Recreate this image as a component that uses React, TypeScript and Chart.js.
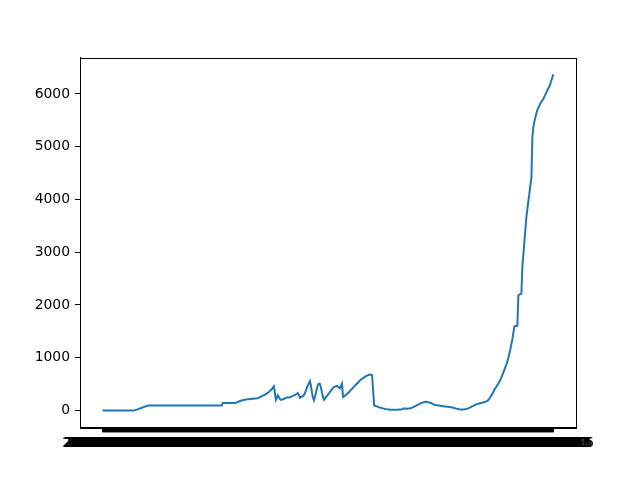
import React, { useEffect, useRef } from "react";
import { Chart, registerables } from "chart.js";

Chart.register(...registerables);

const START_DATE = "2020-01-22";

// Series values, one per day
const values: number[] = [
  0, 0, 0, 0, 0, 0, 0, 0, 0, 0,
  0, 0, 0, 0, 0, 0, 0, 0, 0, 0,
  0, 0, 0, 0, 0, 0, 0, 0, 0, 0,
  0, 0, 3, 8, 14, 20, 27, 34, 41, 48,
  55, 62, 69, 76, 82, 87, 91, 94, 95, 95,
  95, 95, 95, 95, 95, 95, 95, 95, 95, 95,
  95, 95, 95, 95, 95, 95, 95, 95, 95, 95,
  95, 95, 95, 95, 95, 95, 95, 95, 95, 95,
  95, 95, 95, 95, 95, 95, 95, 95, 95, 95,
  95, 95, 95, 95, 95, 95, 95, 95, 95, 95,
  95, 95, 95, 95, 95, 95, 95, 95, 95, 95,
  95, 95, 95, 95, 95, 95, 95, 95, 95, 95,
  139, 139, 139, 139, 140, 140, 140, 140, 140, 140,
  140, 140, 141, 145, 152, 160, 168, 175, 182, 188,
  194, 199, 203, 206, 209, 211, 213, 215, 217, 219,
  221, 222, 224, 226, 228, 234, 242, 252, 262, 272,
  280, 287, 298, 310, 322, 336, 350, 367, 385, 405,
  430, 456, 330, 203, 245, 285, 250, 215, 200, 205,
  212, 220, 228, 240, 243, 245, 247, 250, 258, 266,
  275, 285, 295, 305, 315, 330, 290, 240, 250, 260,
  275, 290, 330, 380, 430, 480, 520, 556, 460, 340,
  240, 190, 260, 340, 420, 490, 506, 500, 430, 340,
  260, 203, 225, 250, 275, 300, 325, 350, 375, 400,
  425, 443, 450, 458, 465, 450, 430, 420, 465, 506,
  253, 265, 280, 295, 310, 330, 350, 370, 390, 410,
  430, 450, 470, 490, 510, 530, 550, 570, 585, 600,
  612, 625, 637, 648, 658, 667, 677, 680, 675, 665,
  400, 95, 88, 80, 73, 66, 59, 53, 48, 43,
  38, 33, 28, 24, 20, 18, 16, 14, 13, 13,
  12, 12, 12, 13, 13, 14, 15, 16, 18, 22,
  30, 40, 35, 30, 32, 35, 38, 40, 45, 52,
  60, 70, 80, 90, 100, 110, 120, 130, 139, 146,
  152, 158, 165, 162, 158, 154, 150, 146, 140, 130,
  118, 108, 104, 100, 97, 94, 91, 88, 85, 82,
  79, 76, 74, 72, 70, 68, 65, 62, 58, 54,
  49, 44, 39, 34, 29, 25, 21, 19, 18, 18,
  19, 21, 24, 28, 33, 40, 48, 57, 66, 76,
  86, 97, 108, 114, 120, 126, 131, 136, 141, 146,
  152, 158, 165, 172, 180, 195, 222, 250, 280, 315,
  350, 385, 420, 450, 480, 510, 545, 580, 620, 670,
  720, 770, 820, 870, 930, 1000, 1080, 1160, 1260, 1350,
  1470, 1595, 1600, 1600, 1605, 2183, 2195, 2205, 2215, 2721,
  2960, 3200, 3430, 3670, 3820, 3970, 4120, 4270, 4400, 5200,
  5380, 5475, 5560, 5633, 5700, 5740, 5780, 5820, 5854, 5880,
  5910, 5949, 5990, 6030, 6076, 6110, 6139, 6200, 6260, 6320,
  6370,
];

// Category (date) labels, one per value
const dates: string[] = (() => {
  const out: string[] = [];
  const d = new Date(START_DATE + "T00:00:00Z");
  for (let i = 0; i < values.length; i++) {
    out.push(d.toISOString().slice(0, 10));
    d.setUTCDate(d.getUTCDate() + 1);
  }
  return out;
})();

const yTicks: number[] = [0, 1000, 2000, 3000, 4000, 5000, 6000];

const FONT = { family: "DejaVu Sans", size: 13.9 };

const framePlugin = {
  id: "frame",
  afterDraw(chart: any) {
    const { ctx, chartArea } = chart;
    ctx.save();
    ctx.strokeStyle = "#000";
    ctx.lineWidth = 1;
    ctx.strokeRect(
      Math.round(chartArea.left) + 0.5,
      Math.round(chartArea.top) + 0.5,
      Math.round(chartArea.right - chartArea.left),
      Math.round(chartArea.bottom - chartArea.top)
    );
    ctx.restore();
  },
};

export default function App() {
  const ref = useRef<HTMLCanvasElement | null>(null);

  useEffect(() => {
    if (!ref.current) return;
    const n = values.length;
    const span = n - 1;
    const dataMax = Math.max(...values);
    const dataMin = Math.min(...values);
    const yr = dataMax - dataMin;
    const chart = new Chart(ref.current, {
      type: "line",
      data: {
        datasets: [
          {
            data: values.map((v, i) => ({ x: i, y: v })),
            borderColor: "#1f77b4",
            borderWidth: 2,
            pointRadius: 0,
            fill: false,
            tension: 0,
          },
        ],
      },
      options: {
        animation: false,
        responsive: false,
        devicePixelRatio: 1,
        layout: { padding: { left: 0, top: 57.6, right: 64, bottom: 0 } },
        plugins: {
          legend: { display: false },
          tooltip: { enabled: false },
          title: { display: false },
        },
        scales: {
          x: {
            type: "linear",
            min: -0.05 * span,
            max: span * 1.05,
            afterBuildTicks: (scale: any) => {
              scale.ticks = dates.map((_, i) => ({ value: i }));
            },
            afterFit: (scale: any) => {
              scale.height = 52.8;
            },
            ticks: {
              autoSkip: false,
              maxRotation: 0,
              minRotation: 0,
              padding: 3,
              color: "#000",
              font: FONT,
              callback: (v: any) => dates[v as number] ?? "",
            },
            grid: {
              drawOnChartArea: false,
              drawTicks: true,
              tickLength: 5,
              color: "#000",
              lineWidth: 2,
            },
            border: { display: true, color: "#000", width: 1 },
          },
          y: {
            type: "linear",
            min: dataMin - 0.05 * yr,
            max: dataMax + 0.05 * yr,
            afterBuildTicks: (scale: any) => {
              scale.ticks = yTicks.map((v) => ({ value: v }));
            },
            afterFit: (scale: any) => {
              scale.width = 80;
            },
            ticks: {
              padding: 5,
              color: "#000",
              font: FONT,
              callback: (v: any) => String(v),
            },
            grid: {
              drawOnChartArea: false,
              drawTicks: true,
              tickLength: 5,
              color: "#000",
              lineWidth: 1,
            },
            border: { display: true, color: "#000", width: 1 },
          },
        },
      },
      plugins: [framePlugin],
    } as any);
    return () => chart.destroy();
  }, []);

  return (
    <div style={{ position: "absolute", left: 0, top: 0, width: 640, height: 480, background: "#fff" }}>
      <canvas ref={ref} width={640} height={480} style={{ width: 640, height: 480, display: "block" }} />
    </div>
  );
}
